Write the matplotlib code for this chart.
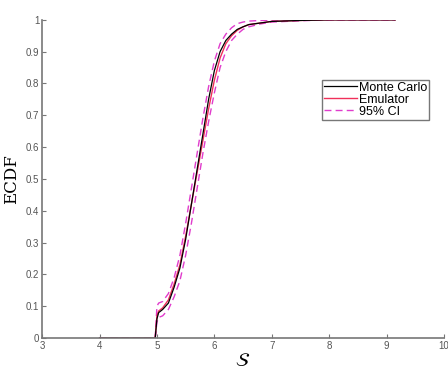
import matplotlib
matplotlib.use("Agg")
import matplotlib.pyplot as plt

# Data
x_mc = [4.0, 4.97, 5.0, 5.03, 5.1, 5.2, 5.3, 5.4, 5.5, 5.6, 5.7, 5.8, 5.9, 6.0, 6.1, 6.2, 6.3, 6.4, 6.5, 6.6, 6.8, 7.0, 7.5, 8.0, 9.15]
y_mc = [0.0, 0.0, 0.06, 0.08, 0.09, 0.11, 0.16, 0.22, 0.31, 0.42, 0.53, 0.64, 0.75, 0.84, 0.90, 0.935, 0.955, 0.97, 0.978, 0.985, 0.99, 0.995, 0.998, 1.0, 1.0]

x_em = [4.0, 4.97, 5.0, 5.03, 5.1, 5.2, 5.3, 5.4, 5.5, 5.6, 5.7, 5.8, 5.9, 6.0, 6.1, 6.2, 6.3, 6.4, 6.5, 6.6, 6.8, 7.0, 7.5, 8.0, 9.15]
y_em = [0.0, 0.0, 0.07, 0.085, 0.095, 0.12, 0.17, 0.23, 0.32, 0.42, 0.52, 0.62, 0.72, 0.81, 0.88, 0.925, 0.95, 0.967, 0.978, 0.985, 0.99, 0.995, 0.998, 1.0, 1.0]

x_hi = [4.0, 4.97, 5.0, 5.03, 5.1, 5.2, 5.3, 5.4, 5.5, 5.6, 5.7, 5.8, 5.9, 6.0, 6.1, 6.2, 6.3, 6.4, 6.5, 6.6, 6.8, 7.0, 7.5, 8.0, 9.15]
y_hi = [0.0, 0.0, 0.10, 0.11, 0.115, 0.14, 0.19, 0.26, 0.36, 0.47, 0.58, 0.69, 0.79, 0.87, 0.925, 0.955, 0.975, 0.988, 0.993, 0.996, 0.998, 0.999, 1.0, 1.0, 1.0]

x_lo = [4.0, 4.97, 5.0, 5.03, 5.1, 5.2, 5.3, 5.4, 5.5, 5.6, 5.7, 5.8, 5.9, 6.0, 6.1, 6.2, 6.3, 6.4, 6.5, 6.6, 6.8, 7.0, 7.5, 8.0, 9.15]
y_lo = [0.0, 0.0, 0.05, 0.065, 0.07, 0.09, 0.13, 0.18, 0.26, 0.36, 0.47, 0.58, 0.68, 0.77, 0.85, 0.90, 0.935, 0.955, 0.97, 0.978, 0.987, 0.993, 0.997, 1.0, 1.0]

x_ticks = [3, 4, 5, 6, 7, 8, 9, 10]
y_ticks = [0, 0.1, 0.2, 0.3, 0.4, 0.5, 0.6, 0.7, 0.8, 0.9, 1]
y_ticklabels = ["0", "0.1", "0.2", "0.3", "0.4", "0.5", "0.6", "0.7", "0.8", "0.9", "1"]

fig = plt.figure(figsize=(4.48, 3.74), dpi=100)
ax = fig.add_axes([0.094, 0.096, 0.897, 0.851])

ci_color = "#e03ccc"
ax.plot(x_hi, y_hi, color=ci_color, lw=1.0, ls=(0, (5, 3)), label="95% CI")
ax.plot(x_lo, y_lo, color=ci_color, lw=1.0, ls=(0, (5, 3)))
ax.plot(x_em, y_em, color="#f0305a", lw=1.0, label="Emulator")
ax.plot(x_mc, y_mc, color="black", lw=0.9, label="Monte Carlo")

ax.set_xlim(3, 10)
ax.set_ylim(0, 1)
ax.set_xticks(x_ticks)
ax.set_yticks(y_ticks)
ax.set_yticklabels(y_ticklabels)

for s in ["top", "right"]:
    ax.spines[s].set_visible(False)
for s in ["left", "bottom"]:
    ax.spines[s].set_color("#777777")
    ax.spines[s].set_linewidth(1.2)
ax.tick_params(direction="in", length=3, width=0.8, colors="#777777",
               labelsize=7, labelcolor="#555555", pad=2)
for lbl in ax.get_xticklabels() + ax.get_yticklabels():
    lbl.set_family("Liberation Sans")

ax.set_xlabel(r"$\mathcal{S}$", fontsize=14, labelpad=0)
ax.set_ylabel("ECDF", family="DejaVu Serif", fontsize=12, labelpad=4)

handles, labels = ax.get_legend_handles_labels()
order = [2, 1, 0]
leg = ax.legend([handles[i] for i in order], [labels[i] for i in order],
                loc="upper left", bbox_to_anchor=(0.697, 0.811),
                prop={"family": "Liberation Sans", "size": 9},
                frameon=True, fancybox=False,
                handlelength=2.6, handletextpad=0.2, borderpad=0.15,
                labelspacing=0.0, borderaxespad=0)
leg.get_frame().set_edgecolor("#555555")
leg.get_frame().set_linewidth(1.0)

fig.savefig("out.png", dpi=100)
